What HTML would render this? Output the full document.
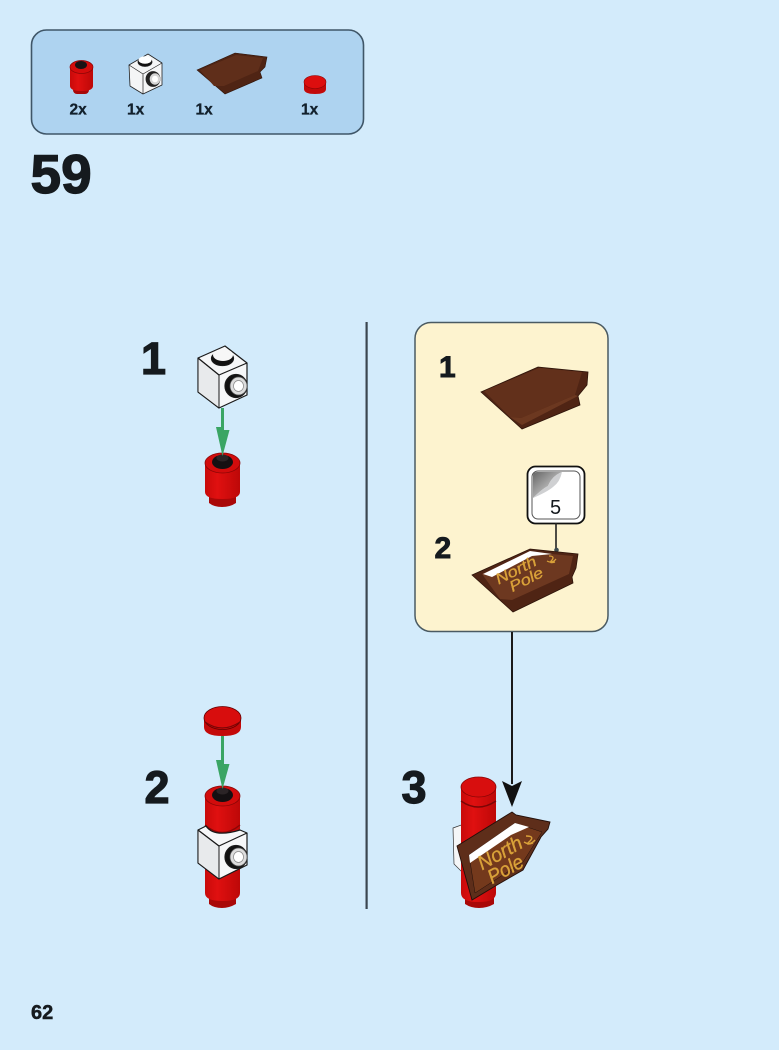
<!DOCTYPE html>
<html><head><meta charset="utf-8">
<style>html,body{margin:0;padding:0;background:#d3ebfb;overflow:hidden}svg{display:block;filter:blur(.35px)}
text{font-family:"Liberation Sans",sans-serif}</style></head>
<body>
<svg width="779" height="1050" viewBox="0 0 779 1050" xmlns="http://www.w3.org/2000/svg">
<defs>
<linearGradient id="red" x1="0" x2="1" y1="0" y2="0"><stop offset="0" stop-color="#c80a0a"/><stop offset=".35" stop-color="#e01010"/><stop offset="1" stop-color="#bd0808"/></linearGradient>
<linearGradient id="peel" x1="0" x2="1" y1="0" y2="1"><stop offset="0" stop-color="#666"/><stop offset="1" stop-color="#eee"/></linearGradient>
</defs>
<rect width="779" height="1050" fill="#d3ebfb"/>

<!-- parts panel -->
<rect x="31.500" y="30" width="332" height="104" rx="15" fill="#aed3f0" stroke="#3f5668" stroke-width="1.600"/>
<!-- red round brick small -->
<g>
<rect x="73" y="86" width="16" height="8" rx="4" fill="#a80808"/>
<path d="M70 67V86Q70 91 81.500 91Q93 91 93 86V67Z" fill="url(#red)"/>
<ellipse cx="81.500" cy="67" rx="11.500" ry="6.500" fill="#d40c0c" stroke="#8a0606" stroke-width=".7"/>
<ellipse cx="81" cy="65" rx="6" ry="4" fill="#1a1214"/>
</g>
<!-- white brick small -->
<g stroke="#222" stroke-width=".8" stroke-linejoin="round">
<path d="M129 65L148 54L162 63V85L143 94L130 86Z" fill="#f4f5f6"/>
<path d="M129 65L143 74L162 63M143 74V94" fill="none" stroke-width=".7"/>
<ellipse cx="145" cy="62" rx="7" ry="4.500" fill="#111"/>
<ellipse cx="145" cy="60" rx="6.500" ry="3.800" fill="#fff" stroke="none"/>
<ellipse cx="153" cy="79" rx="7" ry="7.500" fill="#222"/>
<ellipse cx="155" cy="79" rx="5.300" ry="5.700" fill="#d5d5d5" stroke="none"/>
<ellipse cx="155" cy="79" rx="3" ry="3.300" fill="#fff" stroke="none"/>
</g>
<!-- brown slope small -->
<path d="M197 70L235 53L267 57L265 67L260 72L262 78L225 94Z" fill="#4f2414" stroke="#2e140a" stroke-width=".6"/>
<path d="M200 70L236 55L263 58L258 71L224 86L214 86Z" fill="#5f2e1a"/>
<!-- red plate small -->
<g>
<path d="M304 83V89Q304 94 315 94Q326 94 326 89V83Z" fill="#c20909"/>
<ellipse cx="315" cy="82" rx="11" ry="6.500" fill="#dd0e0e" stroke="#8a0606" stroke-width=".6"/>
</g>
<g font-weight="700" font-size="15.500" fill="#12202c" stroke="#12202c" stroke-width=".3">
<text x="69.500" y="114.500">2x</text>
<text x="127" y="114.500">1x</text>
<text x="195.500" y="114.500">1x</text>
<text x="301" y="114.500">1x</text>
</g>
<text x="30.500" y="193" font-size="55" font-weight="700" fill="#151a1e" stroke="#151a1e" stroke-width="1.300">59</text>

<!-- step 1 -->
<text x="141" y="374" font-size="45" font-weight="700" fill="#151a1e" stroke="#151a1e" stroke-width="1.200">1</text>
<g stroke="#1a1a1a" stroke-width="1.200" stroke-linejoin="round">
<path d="M198 358L225 346L247 363V395L219 408L198 392Z" fill="#f6f7f8"/>
<path d="M198 358V392L219 408V375Z" fill="#e8eaec" stroke-width="1"/>
<path d="M198 358L219 375L247 363" fill="none"/>
<ellipse cx="222.500" cy="358.500" rx="11" ry="7" fill="#111"/>
<ellipse cx="223" cy="355" rx="10" ry="6" fill="#f7f7f7" stroke="none"/>
<ellipse cx="236" cy="386" rx="11" ry="11.500" fill="#111"/>
<ellipse cx="238.500" cy="386" rx="8.500" ry="9" fill="#ddd" stroke="#555" stroke-width=".7"/>
<ellipse cx="238.500" cy="386" rx="5" ry="5.500" fill="#fff" stroke="#888" stroke-width=".7"/>
</g>
<!-- red brick 1 -->
<path d="M209 495H236V503Q230 507 222 507Q214 507 209 503Z" fill="#a90808"/>
<path d="M205 462V492Q205 499 222.500 499Q240 499 240 492V462Z" fill="url(#red)"/>
<ellipse cx="222.500" cy="463" rx="17.500" ry="10" fill="#d20c0c" stroke="#8a0606" stroke-width=".8"/>
<ellipse cx="222.500" cy="462" rx="10.500" ry="7" fill="#141012"/>
<ellipse cx="222.500" cy="458" rx="6" ry="3.500" fill="#2b2426"/>
<!-- arrow 1 -->
<path d="M221 408H224V430H229.500L222.500 456L216 427H221Z" fill="#3aa564"/>

<!-- step 2 -->
<text x="144.500" y="803" font-size="45" font-weight="700" fill="#151a1e" stroke="#151a1e" stroke-width="1.200">2</text>
<path d="M204 720V727Q204 736 222.500 736Q241 736 241 727V720Z" fill="#c40909"/>
<ellipse cx="222.500" cy="718" rx="18.500" ry="11.500" fill="#d80d0d" stroke="#600" stroke-width=".8"/>
<path d="M205 722Q222 734 240 722" fill="none" stroke="#7a0606" stroke-width="1.200"/>
<!-- cylinder -->
<path d="M209 895H236V904Q229 908 222 908Q214 908 209 904Z" fill="#a90808"/>
<path d="M205 795V893Q205 901 222.500 901Q240 901 240 893V795Z" fill="url(#red)"/>
<path d="M205 825Q222 840 240 825" fill="none" stroke="#8a0606" stroke-width="1.400"/>
<ellipse cx="222.500" cy="796" rx="17.500" ry="10" fill="#d20c0c" stroke="#8a0606" stroke-width=".8"/>
<ellipse cx="222.500" cy="795" rx="10.500" ry="7" fill="#141012"/>
<ellipse cx="222.500" cy="791" rx="6" ry="3.500" fill="#2b2426"/>
<!-- brick -->
<g stroke="#1a1a1a" stroke-width="1.200" stroke-linejoin="round">
<path d="M198 830L206 826Q214 838 240 830L247 833V865L219 879L198 863Z" fill="#f6f7f8"/>
<path d="M198 830V863L219 879V846Z" fill="#e8eaec" stroke-width="1"/>
<path d="M198 830L219 846L247 833" fill="none"/>
<ellipse cx="236" cy="857" rx="11" ry="11.500" fill="#111"/>
<ellipse cx="238.500" cy="857" rx="8.500" ry="9" fill="#ddd" stroke="#555" stroke-width=".7"/>
<ellipse cx="238.500" cy="857" rx="5" ry="5.500" fill="#fff" stroke="#888" stroke-width=".7"/>
</g>
<path d="M221 736H224V764H229.500L222.500 789L216 760H221Z" fill="#3aa564"/>

<!-- divider -->
<rect x="365.500" y="322" width="2.200" height="587" fill="#3b4650"/>

<!-- yellow panel -->
<rect x="415" y="322.500" width="193" height="309" rx="16" fill="#fdf3cf" stroke="#4a5a62" stroke-width="1.500"/>
<text x="439" y="377" font-size="30" font-weight="700" fill="#151a1e" stroke="#151a1e" stroke-width=".9">1</text>
<text x="434.500" y="558" font-size="30" font-weight="700" fill="#151a1e" stroke="#151a1e" stroke-width=".9">2</text>
<!-- brown 1 -->
<path d="M481 392L538 367L588 372L587 385L578 396L580 405L522 429Z" fill="#4f2414" stroke="#2e140a" stroke-width=".8"/>
<path d="M484 391L539 368L582 372L575 395L521 418L510 417Z" fill="#62301b"/>
<path d="M510 417L521 418L575 395L578 396L522 425Z" fill="#6c3820"/>
<!-- callout -->
<rect x="527.500" y="466.500" width="57" height="57" rx="8" fill="#fff" stroke="#111" stroke-width="1.800"/>
<rect x="532" y="471" width="48" height="48" rx="6" fill="#fff" stroke="#555" stroke-width="1"/>
<path d="M533 498V476Q533 472 537 472H562Q552 476 548 486Q542 489 533 498Z" fill="url(#peel)"/>
<path d="M533 498Q542 489 548 486Q552 476 562 472Q560 482 553 487Q547 492 533 498Z" fill="#cfd0d2"/>
<text x="555.500" y="514" font-size="20" text-anchor="middle" fill="#151a1e">5</text>
<line x1="556" y1="523" x2="556" y2="549" stroke="#222" stroke-width="1.600"/>
<circle cx="556.500" cy="550" r="2.300" fill="#3b4a50"/>
<!-- brown 2 -->
<path d="M472 575L530 549L578 554L576 568L572 577L573 583L513 612Z" fill="#4f2414" stroke="#2e140a" stroke-width=".8"/>
<path d="M482 574L530 552L573 556L569 574L512 600L500 599Z" fill="#6d3820"/>
<path d="M483 574L530 551L552 554L532 556L492 577Z" fill="#fff"/>
<g transform="rotate(-27 520 576)" fill="#d9a139" stroke="#d9a139" stroke-width=".3" font-style="italic">
<text x="497" y="574" font-family="Liberation Serif,serif" font-size="15" textLength="44" lengthAdjust="spacingAndGlyphs">North</text>
<text x="506" y="587" font-family="Liberation Serif,serif" font-size="15" textLength="36" lengthAdjust="spacingAndGlyphs">Pole</text>
</g>
<path d="M549 556Q555 556 552 560Q548 564 555 562M547 561Q552 564 556 559" fill="none" stroke="#d9a139" stroke-width="1.300"/>

<!-- long arrow -->
<rect x="511" y="632" width="2" height="152" fill="#1a1a1a"/>
<path d="M502 781L512 786L522 781L512 807Z" fill="#111"/>

<!-- step 3 -->
<text x="401.500" y="803" font-size="45" font-weight="700" fill="#151a1e" stroke="#151a1e" stroke-width="1.200">3</text>
<path d="M453 828L464 824L480 840L470 880L454 864Z" fill="#f5f6f7" stroke="#333" stroke-width=".7"/>
<path d="M465 895H494V904Q487 908 479 908Q471 908 465 904Z" fill="#a90808"/>
<path d="M461 787V893Q461 902 478.500 902Q496 902 496 893V787Z" fill="url(#red)"/>
<path d="M461 801Q478 813 496 801" fill="none" stroke="#7a0606" stroke-width="1.400"/>
<ellipse cx="478.500" cy="787" rx="17.500" ry="10" fill="#d80e0e" stroke="#8a0606" stroke-width=".8"/>
<!-- sign -->
<path d="M457 846L512 812L516 815L550 822L548 829L541 837L523 870L497 885L472 900Z" fill="#5e2e1a" stroke="#23100a" stroke-width=".9"/>
<path d="M469 855L515 823L542 832L523 862L475 893Z" fill="#74391c" stroke="#23100a" stroke-width=".5"/>
<path d="M469 855L515 823L529 827L511 835L470 863Z" fill="#fff"/>
<g transform="rotate(-29 505 860)" fill="#d9a139" stroke="#d9a139" stroke-width=".35" font-style="italic">
<text x="480" y="858" font-family="Liberation Serif,serif" font-size="20" textLength="48" lengthAdjust="spacingAndGlyphs">North</text>
<text x="482" y="875" font-family="Liberation Serif,serif" font-size="20" textLength="38" lengthAdjust="spacingAndGlyphs">Pole</text>
</g>
<path d="M526 836Q535 836 530 841Q524 846 533 843M524 842Q530 846 535 840" fill="none" stroke="#d9a139" stroke-width="1.400"/>

<text x="31" y="1019" font-size="20" font-weight="700" fill="#151a1e" stroke="#151a1e" stroke-width=".5">62</text>
</svg>
</body></html>
